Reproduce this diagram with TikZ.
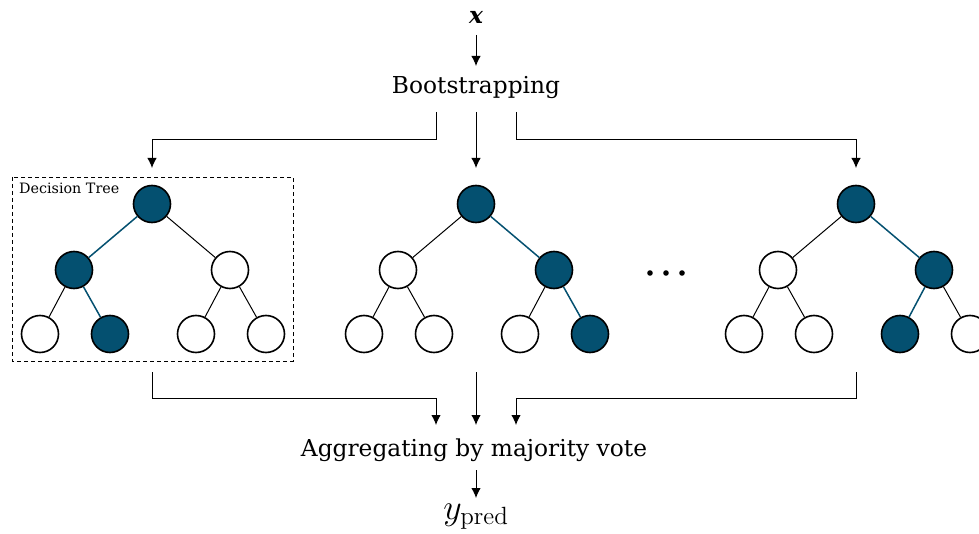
\documentclass[tikz,border=0pt]{standalone}
\usepackage{graphicx}
\usepackage[no-math]{fontspec}
\setmainfont{DejaVu Serif}
\usetikzlibrary{arrows.meta}
\definecolor{nodeblue}{RGB}{4,80,112}
\tikzset{
  px/.style={x=1pt,y=-1pt},
  tnode/.style={circle,draw=black,line width=1.6pt,minimum size=37pt,inner sep=0pt,fill=white},
  hnode/.style={tnode,fill=nodeblue},
  tedge/.style={draw=black,line width=1pt},
  hedge/.style={draw=nodeblue,line width=1.5pt},
  flow/.style={draw=black,line width=1pt,-{Latex[length=10pt,width=9.5pt]}},
  lbl/.style={font=\fontsize{23.3}{27}\selectfont,inner sep=0pt},
}
\begin{document}
\begin{tikzpicture}[px]
\useasboundingbox (0,0) rectangle (979,534);

% input and bootstrapping
\node[lbl] (x) at (476,17) {\bfseries\itshape x};
\node[lbl] (boot) at (476,88) {Bootstrapping};
\draw[flow] (476,35) -- (476,66);

% one tree: name prefix, x of root, then the styles of its seven nodes
\newcommand{\drawtree}[9]{%
  \node[#3] (#1r) at (#2,204) {};
  \node[#4] (#1a) at (#2-78,270) {};
  \node[#5] (#1b) at (#2+78,270) {};
  \node[#6] (#1aa) at (#2-112,334) {};
  \node[#7] (#1ab) at (#2-42,334) {};
  \node[#8] (#1ba) at (#2+44,334) {};
  \node[#9] (#1bb) at (#2+114,334) {};
}

% tree 1
\drawtree{A}{152}{hnode}{hnode}{tnode}{tnode}{hnode}{tnode}{tnode}
\draw[hedge] (Ar) -- (Aa);
\draw[tedge] (Ar) -- (Ab);
\draw[tedge] (Aa) -- (Aaa);
\draw[hedge] (Aa) -- (Aab);
\draw[tedge] (Ab) -- (Aba);
\draw[tedge] (Ab) -- (Abb);

% tree 2
\drawtree{B}{476}{hnode}{tnode}{hnode}{tnode}{tnode}{tnode}{hnode}
\draw[tedge] (Br) -- (Ba);
\draw[hedge] (Br) -- (Bb);
\draw[tedge] (Ba) -- (Baa);
\draw[tedge] (Ba) -- (Bab);
\draw[tedge] (Bb) -- (Bba);
\draw[hedge] (Bb) -- (Bbb);

% tree 3
\drawtree{C}{856}{hnode}{tnode}{hnode}{tnode}{tnode}{hnode}{tnode}
\draw[tedge] (Cr) -- (Ca);
\draw[hedge] (Cr) -- (Cb);
\draw[tedge] (Ca) -- (Caa);
\draw[tedge] (Ca) -- (Cab);
\draw[hedge] (Cb) -- (Cba);
\draw[tedge] (Cb) -- (Cbb);

% dashed frame around the first tree
\draw[line width=0.9pt,dash pattern=on 4pt off 3pt] (12,177) rectangle (293,361);
\node[anchor=north west,inner sep=0pt,font=\fontsize{14.3}{16}\selectfont] (dtlabel) at (19,183) {Decision Tree};

% ellipsis between trees
\node[inner sep=0pt] (dots) at (666,273) {\tikz[x=1pt,y=1pt]{\foreach \i in {-16,0,16} \fill (\i,0) circle (2.8pt);}};

% split arrows
\coordinate (sl) at (436,112);
\coordinate (sr) at (516,112);
\draw[flow] (sl) |- (152,140) -- (152,168);
\draw[flow] (476,112) -- (476,168);
\draw[flow] (sr) |- (856,140) -- (856,168);

% merge arrows
\coordinate (ml) at (152,372);
\coordinate (mr) at (856,372);
\draw[flow] (ml) |- (436,398) -- (436,425);
\draw[flow] (476,372) -- (476,425);
\draw[flow] (mr) |- (516,398) -- (516,425);

\node[lbl] (agg) at (474,450) {Aggregating by majority vote};
\draw[flow] (476,470) -- (476,498);
\node[inner sep=0pt,font=\fontsize{20}{24}\selectfont] (y) at (476,517) {\scalebox{1.73}{$y_{\mathrm{pred}}$}};
\end{tikzpicture}
\end{document}
